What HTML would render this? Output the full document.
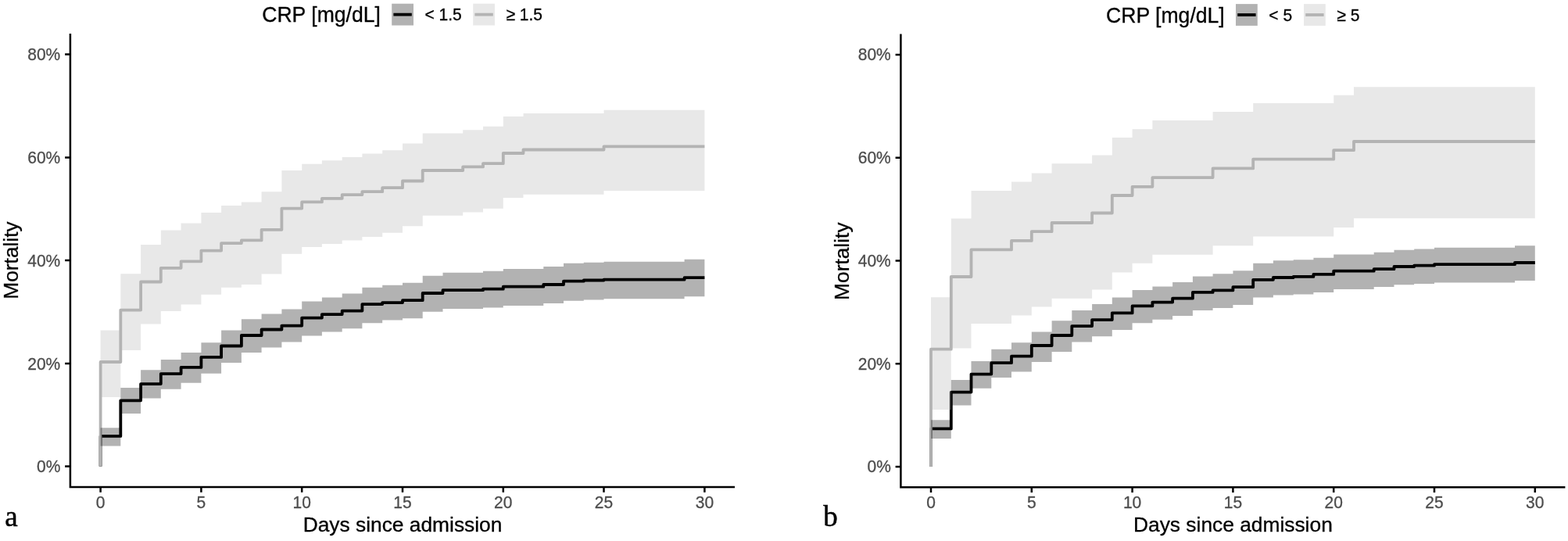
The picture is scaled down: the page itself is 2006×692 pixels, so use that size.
<!DOCTYPE html>
<html lang="en">
<head>
<meta charset="utf-8">
<title>Mortality by CRP</title>
<style>
html,body{margin:0;padding:0;background:#fff;}
body{width:2006px;height:692px;overflow:hidden;}
svg{display:block;font-family:"Liberation Sans",Arial,Helvetica,sans-serif;}
</style>
</head>
<body>
<svg width="2006" height="692" viewBox="0 0 2006 692">
<rect width="2006" height="692" fill="#fff"/>
<g>
<path d="M128.6 596.6V557.9H154.3V512.3H180.1V491.1H205.8V478.1H231.6V469.9H257.4V456.9H283.1V442.5H308.9V429H334.6V421.5H360.4V416.6H386.2V406.6H411.9V402.1H437.7V397.6H463.4V389.1H489.2V387.1H515V384.2H540.7V375H566.5V371.2H618V369.7H643.8V366.7H695.3V364H721V359.7H746.8V358.5H772.5V357.7H875.6V355.2H901.4" fill="none" stroke="#000" stroke-width="3.8" stroke-linejoin="round"/>
<path d="M128.6 596.6V463H154.3V396.6H180.1V360.5H205.8V342.8H231.6V334.3H257.4V320.6H283.1V311.1H308.9V307.4H334.6V293.8H360.4V266.6H386.2V258.4H411.9V253.9H437.7V249.1H463.4V245.2H489.2V240.2H515V231.5H540.7V218H592.2V213.4H618V209.2H643.8V196H669.5V191.5H772.5V187.3H901.4" fill="none" stroke="#b3b3b3" stroke-width="3.8" stroke-linejoin="round"/>
<path d="M128.6 547.2H154.3V496.1H180.1V473.2H205.8V459.9H231.6V451H257.4V438.2H283.1V422.5H308.9V408.3H334.6V401.4H360.4V395.4H386.2V385.4H411.9V380.4H437.7V375.4H463.4V367.7H489.2V364.7H515V361.7H540.7V352.7H566.5V348.8H618V346.8H643.8V344H695.3V341H721V336.8H746.8V335.8H772.5V334.8H875.6V331.8H901.4V379.2H875.6V382.2H772.5V383.4H746.8V384.7H721V387.9H695.3V390.9H643.8V393.4H618V395H566.5V398.8H540.7V407.3H515V409.6H489.2V413.3H463.4V420.3H437.7V424.5H411.9V429.5H386.2V437.5H360.4V444.5H334.6V451H308.9V464H283.1V477.7H257.4V489.7H231.6V497.8H205.8V509.4H180.1V528.9H154.3V570.4H128.6Z" fill="#000" fill-opacity="0.3"/>
<path d="M128.6 422.5H154.3V350.3H180.1V313.1H205.8V294.4H231.6V285.5H257.4V272H283.1V262.9H308.9V258.4H334.6V245.2H360.4V218H386.2V209.8H411.9V205.3H437.7V201H463.4V196.6H489.2V192.3H515V183.5H540.7V170.5H592.2V166.2H618V161.8H643.8V149.1H669.5V144.9H772.5V140.7H901.4V244.1H772.5V248.8H669.5V253.1H643.8V266.8H618V271.4H592.2V275.8H540.7V289.2H515V297.7H489.2V302.9H463.4V307.4H437.7V311.9H411.9V316.1H386.2V324.8H360.4V350.5H334.6V364H308.9V367.7H283.1V376.7H257.4V389.6H231.6V397.9H205.8V414.6H180.1V448H154.3V507.9H128.6Z" fill="#b3b3b3" fill-opacity="0.3"/>
<path d="M89.9 43.1V622.9H940" fill="none" stroke="#000" stroke-width="2.5" stroke-linecap="butt" stroke-linejoin="miter"/>
<path d="M89.9 596.6h-6.8M89.9 464.9h-6.8M89.9 333.1h-6.8M89.9 201.4h-6.8M89.9 69.6h-6.8M128.6 622.9v6.8M257.4 622.9v6.8M386.2 622.9v6.8M515 622.9v6.8M643.8 622.9v6.8M772.5 622.9v6.8M901.4 622.9v6.8" fill="none" stroke="#000" stroke-width="2.5"/>
<text transform="translate(77.3 604.2) scale(1 1.08)" font-size="21.0" text-anchor="end" fill="#4d4d4d" stroke="#4d4d4d" stroke-width="0.3">0%</text>
<text transform="translate(77.3 472.5) scale(1 1.08)" font-size="21.0" text-anchor="end" fill="#4d4d4d" stroke="#4d4d4d" stroke-width="0.3">20%</text>
<text transform="translate(77.3 340.7) scale(1 1.08)" font-size="21.0" text-anchor="end" fill="#4d4d4d" stroke="#4d4d4d" stroke-width="0.3">40%</text>
<text transform="translate(77.3 209) scale(1 1.08)" font-size="21.0" text-anchor="end" fill="#4d4d4d" stroke="#4d4d4d" stroke-width="0.3">60%</text>
<text transform="translate(77.3 77.2) scale(1 1.08)" font-size="21.0" text-anchor="end" fill="#4d4d4d" stroke="#4d4d4d" stroke-width="0.3">80%</text>
<text transform="translate(128.6 650.1) scale(1 1.08)" font-size="21.0" text-anchor="middle" fill="#4d4d4d" stroke="#4d4d4d" stroke-width="0.3">0</text>
<text transform="translate(257.4 650.1) scale(1 1.08)" font-size="21.0" text-anchor="middle" fill="#4d4d4d" stroke="#4d4d4d" stroke-width="0.3">5</text>
<text transform="translate(386.2 650.1) scale(1 1.08)" font-size="21.0" text-anchor="middle" fill="#4d4d4d" stroke="#4d4d4d" stroke-width="0.3">10</text>
<text transform="translate(515 650.1) scale(1 1.08)" font-size="21.0" text-anchor="middle" fill="#4d4d4d" stroke="#4d4d4d" stroke-width="0.3">15</text>
<text transform="translate(643.8 650.1) scale(1 1.08)" font-size="21.0" text-anchor="middle" fill="#4d4d4d" stroke="#4d4d4d" stroke-width="0.3">20</text>
<text transform="translate(772.5 650.1) scale(1 1.08)" font-size="21.0" text-anchor="middle" fill="#4d4d4d" stroke="#4d4d4d" stroke-width="0.3">25</text>
<text transform="translate(901.4 650.1) scale(1 1.08)" font-size="21.0" text-anchor="middle" fill="#4d4d4d" stroke="#4d4d4d" stroke-width="0.3">30</text>
<text transform="translate(515 679.8) scale(1 1.0)" font-size="26.35" text-anchor="middle" fill="#000" stroke="#000" stroke-width="0.3">Days since admission</text>
<text transform="translate(23.3 333) rotate(-90) scale(1 1.0)" font-size="26.35" text-anchor="middle" fill="#000" stroke="#000" stroke-width="0.3">Mortality</text>
<text x="6.2" y="672.5" font-family="'Liberation Serif', 'Times New Roman', serif" font-size="37" fill="#000" stroke="#000" stroke-width="0.5">a</text>
<text transform="translate(335.2 28.2) scale(1 1.02)" font-size="26.6" text-anchor="start" fill="#000" stroke="#000" stroke-width="0.3">CRP [mg/dL]</text>
<rect x="501.2" y="4.7" width="27.8" height="27.8" fill="#000" fill-opacity="0.3"/>
<path d="M503.4 18.6h23.4" stroke="#000" stroke-width="3.8" fill="none"/>
<rect x="605.2" y="4.7" width="27.8" height="27.8" fill="#b3b3b3" fill-opacity="0.3"/>
<path d="M607.4 18.6h23.4" stroke="#b3b3b3" stroke-width="3.8" fill="none"/>
<text transform="translate(543.5 26.3) scale(1 1.08)" font-size="21.0" text-anchor="start" fill="#000" stroke="#000" stroke-width="0.3">&lt; 1.5</text>
<text transform="translate(647.5 26.3) scale(1 1.08)" font-size="21.0" text-anchor="start" fill="#000" stroke="#000" stroke-width="0.3">≥ 1.5</text>
</g>
<g>
<path d="M1191 597V548.4H1216.8V501.6H1242.5V478.6H1268.3V464.2H1294V455.7H1319.8V442H1345.6V429H1371.3V417.1H1397.1V409.1H1422.8V400.4H1448.6V391.4H1474.4V386.6H1500.1V381.7H1525.9V373.9H1551.6V371.4H1577.4V367.2H1603.2V357.8H1628.9V355H1654.7V353.9H1680.4V350.9H1706.2V346.7H1757.7V344.2H1783.5V341H1809.2V339.7H1835V338.2H1938V336H1963.8" fill="none" stroke="#000" stroke-width="3.8" stroke-linejoin="round"/>
<path d="M1191 597V446.7H1216.8V354H1242.5V319.4H1294V307.9H1319.8V296.2H1345.6V285H1397.1V272.5H1422.8V250H1448.6V238.8H1474.4V227.1H1551.6V215.4H1603.2V203.7H1706.2V192.2H1732V181H1963.8" fill="none" stroke="#b3b3b3" stroke-width="3.8" stroke-linejoin="round"/>
<path d="M1191 537.2H1216.8V486.1H1242.5V461.9H1268.3V446.7H1294V438.2H1319.8V424.5H1345.6V410.3H1371.3V397.1H1397.1V389.1H1422.8V380.4H1448.6V371H1474.4V366.5H1500.1V361H1525.9V353.5H1551.6V350.3H1577.4V346.2H1603.2V336.7H1628.9V333.2H1654.7V332.3H1680.4V329.8H1706.2V325.5H1757.7V322.8H1783.5V319.8H1809.2V318.5H1835V316.8H1938V314.3H1963.8V358.9H1938V361.4H1835V362.9H1809.2V364.2H1783.5V367.1H1757.7V370.1H1706.2V373.9H1680.4V376.4H1654.7V377.6H1628.9V380.6H1603.2V389.9H1577.4V394H1551.6V396.9H1525.9V404.1H1500.1V408.8H1474.4V413.3H1448.6V422H1422.8V430.3H1397.1V437.5H1371.3V450H1345.6V462.9H1319.8V475.4H1294V483.1H1268.3V496.8H1242.5V518.5H1216.8V560.9H1191Z" fill="#000" fill-opacity="0.3"/>
<path d="M1191 380.2H1216.8V279.5H1242.5V244.1H1294V232.6H1319.8V221.4H1345.6V209.2H1397.1V198.5H1422.8V176H1448.6V165.3H1474.4V154H1551.6V143H1603.2V132.1H1706.2V121.7H1732V111.2H1963.8V279.2H1732V291.1H1706.2V302.6H1603.2V314.2H1551.6V325.8H1474.4V336.8H1448.6V348.5H1422.8V370.4H1397.1V381.7H1345.6V392.6H1319.8V403.4H1294V414.1H1242.5V445.5H1216.8V524H1191Z" fill="#b3b3b3" fill-opacity="0.3"/>
<path d="M1152.4 43.5V623.3H2002.4" fill="none" stroke="#000" stroke-width="2.5" stroke-linecap="butt" stroke-linejoin="miter"/>
<path d="M1152.4 597h-6.8M1152.4 465.2h-6.8M1152.4 333.5h-6.8M1152.4 201.8h-6.8M1152.4 70h-6.8M1191 623.3v6.8M1319.8 623.3v6.8M1448.6 623.3v6.8M1577.4 623.3v6.8M1706.2 623.3v6.8M1835 623.3v6.8M1963.8 623.3v6.8" fill="none" stroke="#000" stroke-width="2.5"/>
<text transform="translate(1139.8 604.2) scale(1 1.08)" font-size="21.0" text-anchor="end" fill="#4d4d4d" stroke="#4d4d4d" stroke-width="0.3">0%</text>
<text transform="translate(1139.8 472.5) scale(1 1.08)" font-size="21.0" text-anchor="end" fill="#4d4d4d" stroke="#4d4d4d" stroke-width="0.3">20%</text>
<text transform="translate(1139.8 340.7) scale(1 1.08)" font-size="21.0" text-anchor="end" fill="#4d4d4d" stroke="#4d4d4d" stroke-width="0.3">40%</text>
<text transform="translate(1139.8 209) scale(1 1.08)" font-size="21.0" text-anchor="end" fill="#4d4d4d" stroke="#4d4d4d" stroke-width="0.3">60%</text>
<text transform="translate(1139.8 77.2) scale(1 1.08)" font-size="21.0" text-anchor="end" fill="#4d4d4d" stroke="#4d4d4d" stroke-width="0.3">80%</text>
<text transform="translate(1191 650.1) scale(1 1.08)" font-size="21.0" text-anchor="middle" fill="#4d4d4d" stroke="#4d4d4d" stroke-width="0.3">0</text>
<text transform="translate(1319.8 650.1) scale(1 1.08)" font-size="21.0" text-anchor="middle" fill="#4d4d4d" stroke="#4d4d4d" stroke-width="0.3">5</text>
<text transform="translate(1448.6 650.1) scale(1 1.08)" font-size="21.0" text-anchor="middle" fill="#4d4d4d" stroke="#4d4d4d" stroke-width="0.3">10</text>
<text transform="translate(1577.4 650.1) scale(1 1.08)" font-size="21.0" text-anchor="middle" fill="#4d4d4d" stroke="#4d4d4d" stroke-width="0.3">15</text>
<text transform="translate(1706.2 650.1) scale(1 1.08)" font-size="21.0" text-anchor="middle" fill="#4d4d4d" stroke="#4d4d4d" stroke-width="0.3">20</text>
<text transform="translate(1835 650.1) scale(1 1.08)" font-size="21.0" text-anchor="middle" fill="#4d4d4d" stroke="#4d4d4d" stroke-width="0.3">25</text>
<text transform="translate(1963.8 650.1) scale(1 1.08)" font-size="21.0" text-anchor="middle" fill="#4d4d4d" stroke="#4d4d4d" stroke-width="0.3">30</text>
<text transform="translate(1577.4 679.8) scale(1 1.0)" font-size="26.35" text-anchor="middle" fill="#000" stroke="#000" stroke-width="0.3">Days since admission</text>
<text transform="translate(1085.9 334.2) rotate(-90) scale(1 1.0)" font-size="26.35" text-anchor="middle" fill="#000" stroke="#000" stroke-width="0.3">Mortality</text>
<text x="1053.2" y="672.9" font-family="'Liberation Serif', 'Times New Roman', serif" font-size="37" fill="#000" stroke="#000" stroke-width="0.5">b</text>
<text transform="translate(1415 28.6) scale(1 1.02)" font-size="26.6" text-anchor="start" fill="#000" stroke="#000" stroke-width="0.3">CRP [mg/dL]</text>
<rect x="1581" y="5.1" width="27.8" height="27.8" fill="#000" fill-opacity="0.3"/>
<path d="M1583.2 19h23.4" stroke="#000" stroke-width="3.8" fill="none"/>
<rect x="1668" y="5.1" width="27.8" height="27.8" fill="#b3b3b3" fill-opacity="0.3"/>
<path d="M1670.2 19h23.4" stroke="#b3b3b3" stroke-width="3.8" fill="none"/>
<text transform="translate(1623.3 26.7) scale(1 1.08)" font-size="21.0" text-anchor="start" fill="#000" stroke="#000" stroke-width="0.3">&lt; 5</text>
<text transform="translate(1710.3 26.7) scale(1 1.08)" font-size="21.0" text-anchor="start" fill="#000" stroke="#000" stroke-width="0.3">≥ 5</text>
</g>
</svg>
</body>
</html>
